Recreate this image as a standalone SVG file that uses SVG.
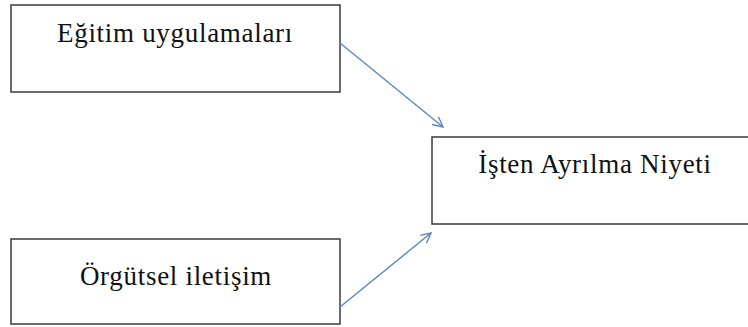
<svg xmlns="http://www.w3.org/2000/svg" width="748" height="327" viewBox="0 0 748 327">
<style>
.box{fill:#fff;stroke:#3a3a3a;stroke-width:1.5}
.lbl{font-family:'Liberation Serif','DejaVu Serif','Times New Roman',serif;font-size:27px;letter-spacing:0.7px;fill:#111;text-anchor:middle}
.conn{stroke:#5b86c2;stroke-width:1.4;fill:none}
</style>
<defs>
<marker id="ah" viewBox="0 0 12 12" refX="11" refY="6" markerWidth="12" markerHeight="12" markerUnits="userSpaceOnUse" orient="auto">
<path d="M1,1 L11,6 L1,11" fill="none" stroke="#5b86c2" stroke-width="1.4"/>
</marker>
</defs>
<rect width="748" height="327" fill="#fff"/>
<g id="node-egitim">
<rect class="box" x="11" y="5" width="329" height="87"/>
<text class="lbl" x="175" y="42">Eğitim uygulamaları</text>
</g>
<g id="node-isten">
<rect class="box" x="432" y="137" width="330" height="87"/>
<text class="lbl" x="595" y="173">İşten Ayrılma Niyeti</text>
</g>
<g id="node-orgutsel">
<rect class="box" x="11" y="239" width="329" height="85"/>
<text class="lbl" x="176" y="285">Örgütsel iletişim</text>
</g>
<g id="connectors">
<line class="conn" x1="340" y1="43" x2="443" y2="127" marker-end="url(#ah)"/>
<line class="conn" x1="340" y1="307" x2="431" y2="233" marker-end="url(#ah)"/>
</g>
</svg>
